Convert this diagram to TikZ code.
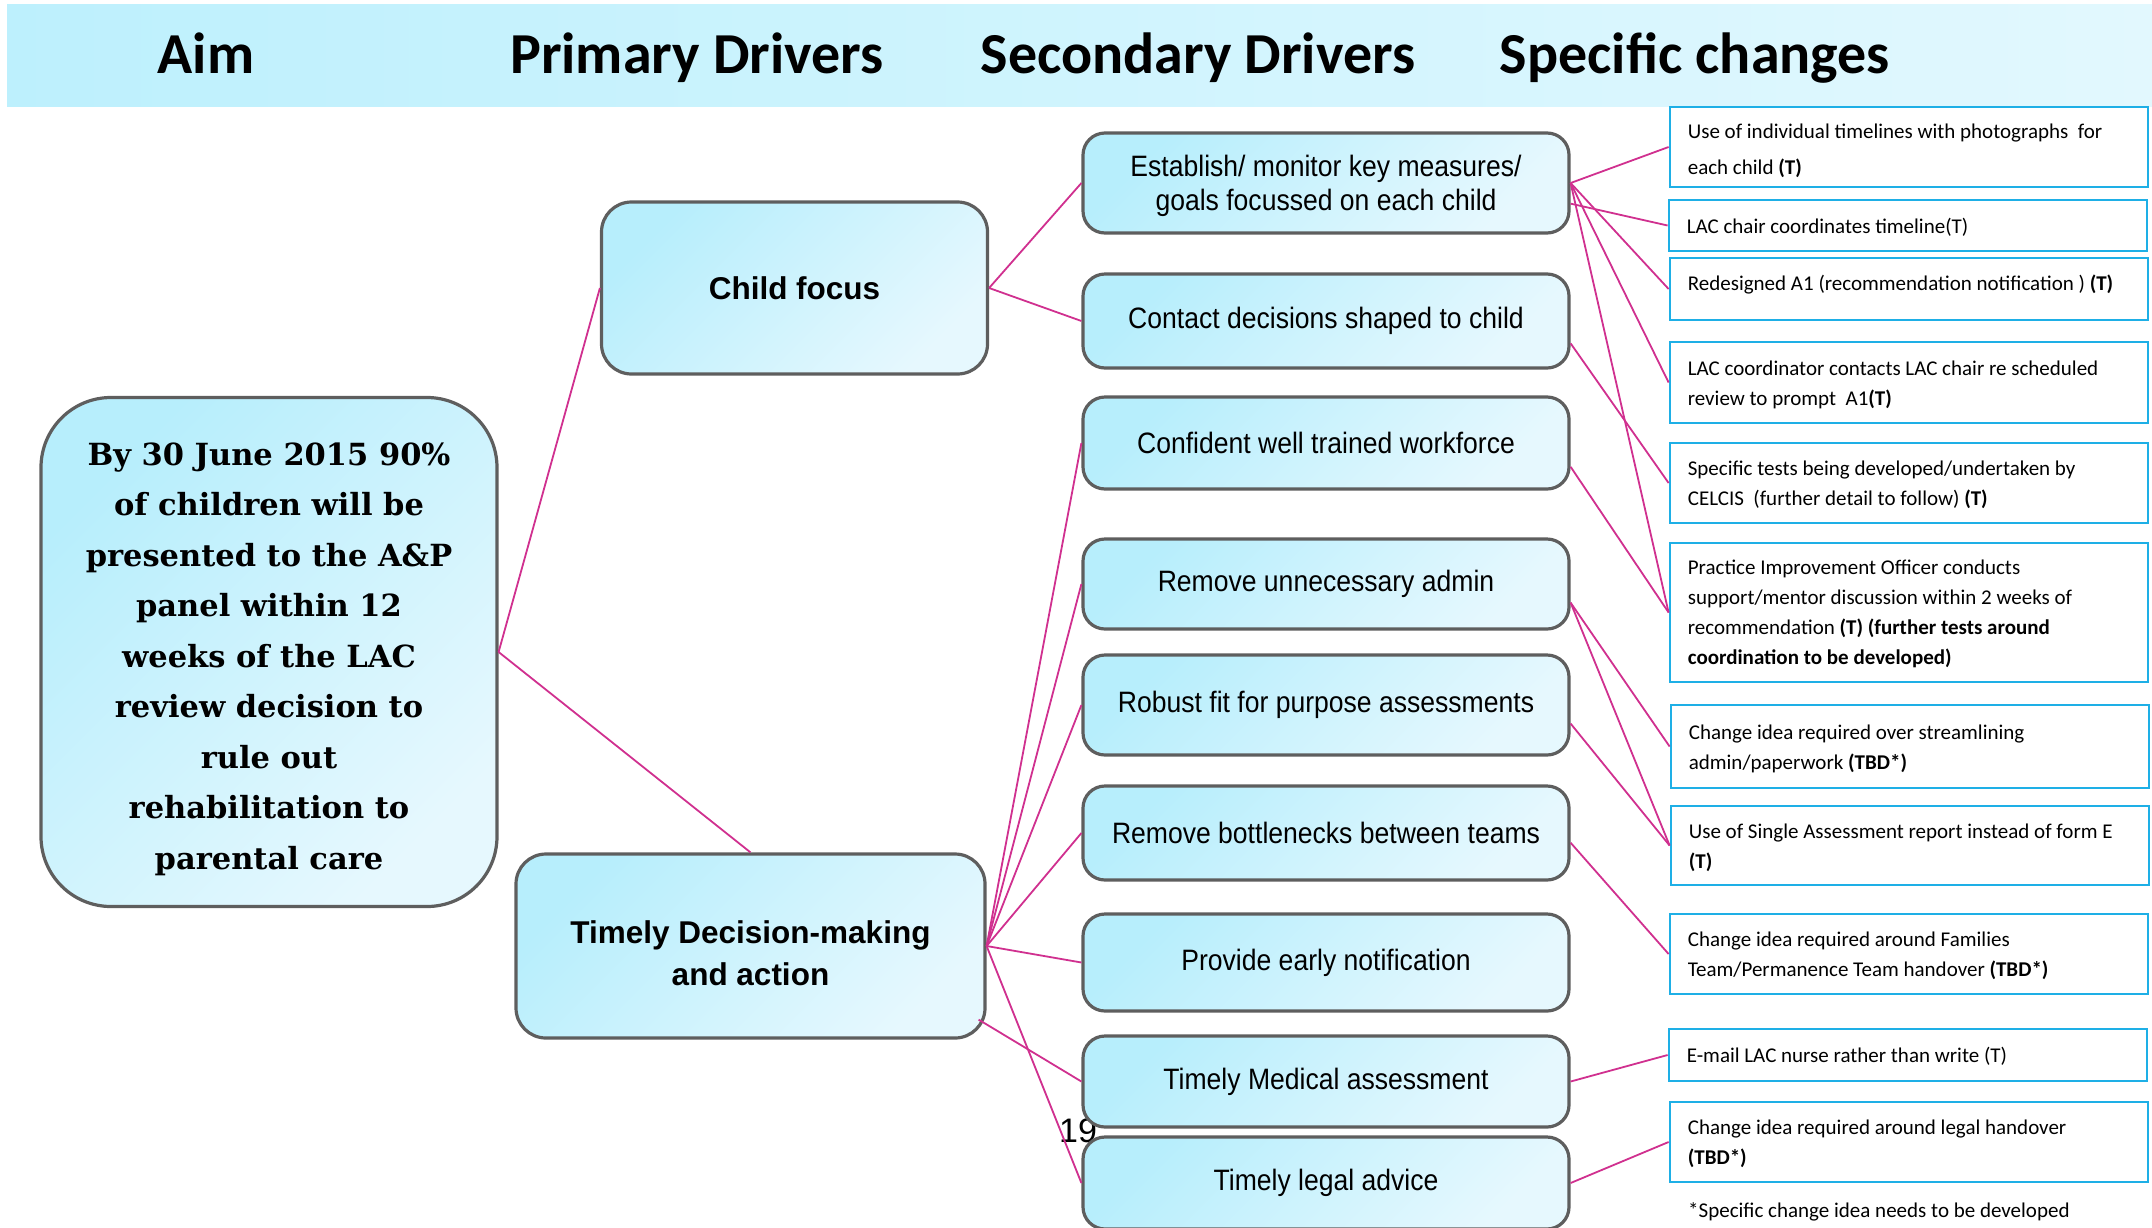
\documentclass[tikz,border=0pt]{standalone}
\usepackage{fontspec}
\setmainfont{Liberation Sans}
\newfontfamily\hdfont{Carlito}
\newfontfamily\aimfont{DejaVu Serif}
\newfontfamily\secfont{Liberation Sans}[FakeStretch=0.9]
\newfontfamily\chgfont{Carlito}
\newfontfamily\pgfont{Liberation Sans}
\usetikzlibrary{calc}

\definecolor{bandA}{HTML}{BDF0FD}
\definecolor{bandB}{HTML}{E2F8FE}
\definecolor{boxA}{HTML}{B7EEFC}
\definecolor{boxB}{HTML}{E6F8FE}
\definecolor{boxedge}{HTML}{5E5E5E}
\definecolor{chgedge}{HTML}{1EAFE6}
\definecolor{link}{HTML}{D0308F}

\tikzset{
  hd/.style={font=\hdfont\bfseries\fontsize{58}{60}\selectfont, inner sep=0pt, anchor=base},
  driver/.style={draw=boxedge, line width=3.2pt, rounded corners=30pt,
    top color=boxA, bottom color=boxB, shading angle=45,
    align=center, inner sep=0pt},
  aimbox/.style={driver, rounded corners=70pt,
    font=\aimfont\bfseries\fontsize{30.5}{50.5}\selectfont},
  primbox/.style={driver, font=\pgfont\bfseries\fontsize{31.5}{42.5}\selectfont},
  secbox/.style={driver, rounded corners=22pt, minimum width=486pt,
    font=\secfont\fontsize{29.5}{34}\selectfont},
  chg/.style={draw=chgedge, line width=2.8pt, fill=white, minimum width=478pt, inner sep=0pt},
  chgtext/.style={anchor=west, align=left, inner sep=0pt,
    font=\chgfont\fontsize{21}{30}\selectfont},
  link/.style={draw=link, line width=1.8pt},
}

\begin{document}
\begin{tikzpicture}[x=1pt, y=-1pt]
\useasboundingbox (0,0) rectangle (2152,1227);
\clip (0,0) rectangle (2152,1227);

% title band
\shade[left color=bandA, right color=bandB] (7,4) rectangle (2152,106);
\node[hd] (hAim) at (206,73) {Aim};
\node[hd] (hPrim) at (697,73) {Primary Drivers};
\node[hd] (hSec) at (1198,73) {Secondary Drivers};
\node[hd] (hChg) at (1695,73) {Specific changes};

% slide number, partly hidden behind the boxes
\node[font=\pgfont\fontsize{34}{34}\selectfont, inner sep=0pt] (pg) at (1078,1131) {19};

% aim
\node[aimbox, minimum width=456pt, minimum height=509pt] (aim) at (269,652)
  {\rule{0pt}{37pt}By 30 June 2015 90\%\\of children will be\\presented to the A\&P\\panel within 12\\weeks of the LAC\\review decision to\\rule out\\rehabilitation to\\parental care};

% primary drivers
\node[primbox, minimum width=386pt, minimum height=172pt] (cf) at (794.5,288) {Child focus};
\node[primbox, minimum width=469pt, minimum height=184pt] (td) at (750.5,946)
  {\rule{0pt}{37pt}Timely Decision-making\\and action};

% secondary drivers
\node[secbox, minimum height=100pt] (s1) at (1326,183) {\rule{0pt}{28pt}Establish/ monitor key measures/\\goals focussed on each child};
\node[secbox, minimum height=94pt] (s2) at (1326,321) {Contact decisions shaped to child};
\node[secbox, minimum height=92pt] (s3) at (1326,443) {Confident well trained workforce};
\node[secbox, minimum height=90pt] (s4) at (1326,584) {Remove unnecessary admin};
\node[secbox, minimum height=100pt] (s5) at (1326,705) {Robust fit for purpose assessments};
\node[secbox, minimum height=94pt] (s6) at (1326,833) {Remove bottlenecks between teams};
\node[secbox, minimum height=97pt] (s7) at (1326,962.5) {Provide early notification};
\node[secbox, minimum height=91pt] (s8) at (1326,1081.5) {Timely Medical assessment};
\node[secbox, minimum height=92pt] (s9) at (1326,1183) {Timely legal advice};

% specific changes
\node[chg, minimum height=80pt] (r1) at (1909,147) {};
\node[chgtext, font=\chgfont\fontsize{21}{36}\selectfont] (r1t) at ($(r1.west)+(19,4)$)
  {Use of individual timelines with photographs~ for\\each child \textbf{(T)}};
\node[chg, minimum height=51pt] (r2) at (1908,225.5) {};
\node[chgtext] (r2t) at ($(r2.west)+(19,2)$) {LAC chair coordinates timeline(T)};
\node[chg, minimum height=62pt] (r3) at (1909,289) {};
\node[chgtext] (r3t) at ($(r3.west)+(19,-4)$) {Redesigned A1 (recommendation notification ) \textbf{(T)}};
\node[chg, minimum height=81pt] (r4) at (1909,382.5) {};
\node[chgtext] (r4t) at ($(r4.west)+(19,2)$)
  {LAC coordinator contacts LAC chair re scheduled\\review to prompt~ A1\textbf{(T)}};
\node[chg, minimum height=80pt] (r5) at (1909,483) {};
\node[chgtext] (r5t) at ($(r5.west)+(19,2)$)
  {Specific tests being developed/undertaken by\\CELCIS~ (further detail to follow) \textbf{(T)}};
\node[chg, minimum height=139pt] (r6) at (1909,612.5) {};
\node[chgtext] (r6t) at ($(r6.west)+(19,1)$)
  {Practice Improvement Officer conducts\\support/mentor discussion within 2 weeks of\\recommendation \textbf{(T) (further tests around}\\\textbf{coordination to be developed)}};
\node[chg, minimum height=83pt] (r7) at (1910,746.5) {};
\node[chgtext] (r7t) at ($(r7.west)+(19,2)$)
  {Change idea required over streamlining\\admin/paperwork \textbf{(TBD*)}};
\node[chg, minimum height=79pt] (r8) at (1910,845.5) {};
\node[chgtext] (r8t) at ($(r8.west)+(19,2)$)
  {Use of Single Assessment report instead of form E\\\textbf{(T)}};
\node[chg, minimum height=80pt] (r9) at (1909,954) {};
\node[chgtext] (r9t) at ($(r9.west)+(19,2)$)
  {Change idea required around Families\\Team/Permanence Team handover \textbf{(TBD*)}};
\node[chg, minimum height=52pt] (r10) at (1908,1055) {};
\node[chgtext] (r10t) at ($(r10.west)+(19,1)$) {E-mail LAC nurse rather than write (T)};
\node[chg, minimum height=80pt] (r11) at (1909,1142) {};
\node[chgtext] (r11t) at ($(r11.west)+(19,2)$)
  {Change idea required around legal handover\\\textbf{(TBD*)}};
\node[chgtext] (note) at (1688,1212) {*Specific change idea needs to be developed};

% aim to primary drivers
\draw[link] (aim.east) -- (cf.west);
\draw[link] (aim.east) -- (td.north);

% primary to secondary drivers
\draw[link] (cf.east) -- (s1.west);
\draw[link] (cf.east) -- (s2.west);
\foreach \s in {s3,s4,s5,s6,s7,s9} \draw[link] (td.east) -- (\s.west);
\draw[link] ($(td.south east)+(-8,-20)$) -- (s8.west);

% secondary drivers to specific changes
\foreach \r in {r1,r3,r4,r6} \draw[link] (s1.east) -- (\r.west);
\draw[link] ($(s1.north east)!0.7!(s1.south east)$) -- (r2.west);
\draw[link] ($(s2.north east)!0.73!(s2.south east)$) -- (r5.west);
\draw[link] ($(s3.north east)!0.75!(s3.south east)$) -- (r6.west);
\draw[link] ($(s4.north east)!0.7!(s4.south east)$) -- (r7.west);
\draw[link] ($(s4.north east)!0.7!(s4.south east)$) -- (r8.west);
\draw[link] ($(s5.north east)!0.68!(s5.south east)$) -- (r8.west);
\draw[link] ($(s6.north east)!0.6!(s6.south east)$) -- (r9.west);
\draw[link] (s8.east) -- (r10.west);
\draw[link] (s9.east) -- (r11.west);
\end{tikzpicture}
\end{document}
